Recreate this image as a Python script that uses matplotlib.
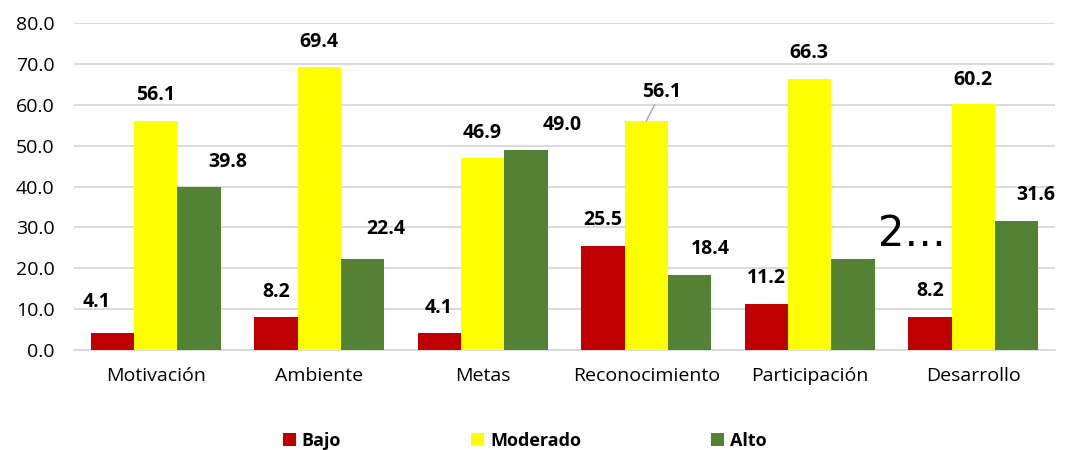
import matplotlib
matplotlib.use("Agg")
import matplotlib.pyplot as plt
import numpy as np
from matplotlib.patches import Patch

categories = ["Motivación", "Ambiente", "Metas", "Reconocimiento", "Participación", "Desarrollo"]
series_names = ["Bajo", "Moderado", "Alto"]
bajo = [4.1, 8.2, 4.1, 25.5, 11.2, 8.2]
moderado = [56.1, 69.4, 46.9, 56.1, 66.3, 60.2]
alto = [39.8, 22.4, 49.0, 18.4, 22.4, 31.6]
yticks = [0, 10, 20, 30, 40, 50, 60, 70, 80]

# label offsets (pixels) relative to bar top centre
off_bajo = [(-16, 31), (0, 25), (-1, 25), (0, 26), (0, 26), (0, 26)]
off_mod = [(0, 26), (0, 25), (-1, 25), (15, 29), (-1, 26), (0, 24)]
off_alto = [(29, 25), (23, 30), (36, 25), (21, 26), (59, 25), (19, 26)]

colors = ["#C00000", "#FFFF00", "#548235"]
FONT = "Open Sans"

fig = plt.figure(figsize=(10.67, 4.5), dpi=100)
ax = fig.add_axes([0.0694, 0.2222, 0.9194, 0.7260])

x = np.arange(len(categories))
w = 0.265
data = [bajo, moderado, alto]
offsets = [off_bajo, off_mod, off_alto]
for j, (vals, col) in enumerate(zip(data, colors)):
    bars = ax.bar(x + (j - 1) * w, vals, width=w, color=col, zorder=3)
    for i, (b, v) in enumerate(zip(bars, vals)):
        xc = b.get_x() + b.get_width() / 2
        dx, dy = offsets[j][i]
        if j == 2 and i == 4:
            ax.annotate("2…", (xc, v), xytext=(dx, dy), textcoords="offset pixels",
                        ha="center", va="center", fontsize=30, family="DejaVu Sans",
                        fontweight="normal", color="black")
        elif j == 1 and i == 3:
            ax.annotate(f"{v:.1f}", (xc, v), xytext=(dx, dy), textcoords="offset pixels",
                        ha="center", va="center", fontsize=14, fontweight="bold", family=FONT,
                        arrowprops=dict(arrowstyle="-", color="#A6A6A6", lw=1, shrinkA=0, shrinkB=0))
        else:
            ax.annotate(f"{v:.1f}", (xc, v), xytext=(dx, dy), textcoords="offset pixels",
                        ha="center", va="center", fontsize=14, fontweight="bold", family=FONT)

ax.set_xlim(-0.5, len(categories) - 0.5)
ax.set_ylim(0, 80)
ax.set_yticks(yticks)
ax.set_yticklabels([f"{t:.1f}" for t in yticks], family=FONT, fontsize=14)
ax.set_xticks(x)
ax.set_xticklabels(categories, family=FONT, fontsize=14)
ax.tick_params(axis="both", length=0)
ax.tick_params(axis="y", pad=14)
ax.tick_params(axis="x", pad=12)
ax.grid(axis="y", color="#D9D9D9", lw=1.3, zorder=0)
for s in ["top", "right", "left"]:
    ax.spines[s].set_visible(False)
ax.spines["bottom"].set_color("#D9D9D9")
ax.spines["bottom"].set_linewidth(1.3)

handles = [Patch(facecolor=c, label=n) for c, n in zip(colors, series_names)]
fig.legend(handles=handles, loc="center", bbox_to_anchor=(0.4916, 0.02), ncol=3, frameon=False,
           prop=dict(family=FONT, weight="bold", size=13), handlelength=0.75, handleheight=0.75,
           handletextpad=0.3, columnspacing=7.2, borderaxespad=0, borderpad=0)

fig.savefig("out.png", dpi=100)
